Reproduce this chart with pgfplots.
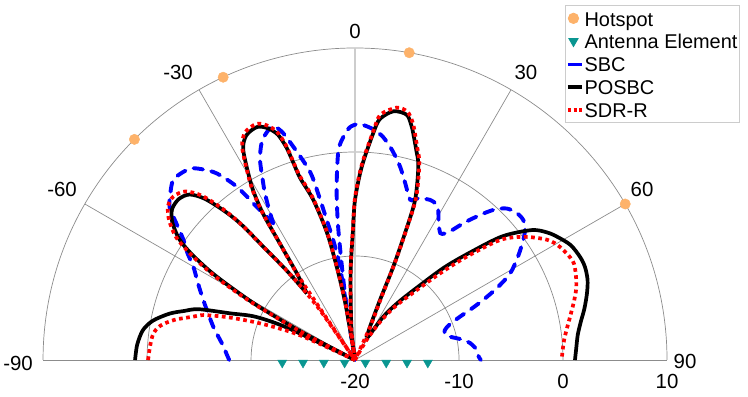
\documentclass[border=0pt]{standalone}
\usepackage{fontspec}
\setmainfont{Liberation Sans}
\usepackage{pgfplots}
\pgfplotsset{compat=1.18}
\definecolor{hotc}{RGB}{253,178,106}
\definecolor{antc}{RGB}{10,150,145}
\definecolor{gridc}{RGB}{140,140,140}
\definecolor{zeroc}{RGB}{205,205,205}
\pgfplotsset{
  table/pol/.style={x expr={(\thisrow{r}+20)*sin(\thisrow{t})},
                    y expr={(\thisrow{r}+20)*cos(\thisrow{t})}},
  sbc/.style={blue, line width=3.9bp, smooth, line cap=round, dash pattern=on 9.5bp off 8.5bp},
  posbc/.style={black, line width=3.7bp, smooth},
  sdr/.style={red, line width=3.7bp, smooth, line cap=butt, dash pattern=on 3.7bp off 3.5bp},
  markleg/.style={legend image code/.code={\path[draw=none] (0bp,0bp) -- (15bp,0bp); \path[##1, draw=none] plot coordinates {(6.5bp,0bp)};}},
  lineleg/.style={legend image code/.code={\draw[##1, solid, line cap=butt, line width=3.2bp] (1bp,0bp) -- (15bp,0bp);}},
  dotleg/.style={legend image code/.code={\draw[##1, line width=3.2bp, dash pattern=on 3bp off 2.6bp] (1bp,0bp) -- (15bp,0bp);}},
}
\newcommand\lblfont{\fontsize{20.5}{24}\selectfont}
\newcommand\lgd[1]{\smash{#1}\rule[-2.5bp]{0pt}{19.5bp}}

\begin{document}
\begin{tikzpicture}
\begin{axis}[
  width=748bp, height=397bp, scale only axis,
  xmin=-34.135, xmax=37.788, ymin=-3.558, ymax=34.615,
  hide axis, clip=false,
  legend cell align=left,
  legend style={at={(rel axis cs:0.7553,0.9874)}, anchor=north west,
    draw=gray!40, line width=0.8bp, fill=white,
    font=\fontsize{20}{24}\selectfont,
    inner xsep=1bp, inner ysep=1.5bp, column sep=0bp, row sep=0bp,
    nodes={inner xsep=1bp, inner ysep=2.2bp}},
]
% bounding box = whole picture
\path (rel axis cs:0,0) rectangle (rel axis cs:1,1);

% polar grid (1 unit = 10.4bp)
\draw[gridc, line width=0.7bp] (axis cs:-30,0) -- (axis cs:30,0);
\draw[gridc, line width=0.7bp] (axis cs:10,0) arc[start angle=0, end angle=180, radius=104bp];
\draw[gridc, line width=0.7bp] (axis cs:20,0) arc[start angle=0, end angle=180, radius=208bp];
\draw[gridc, line width=0.7bp] (axis cs:30,0) arc[start angle=0, end angle=180, radius=312bp];
\draw[gridc, line width=0.7bp] (axis cs:0,0) -- (axis cs:-25.981,15);
\draw[gridc, line width=0.7bp] (axis cs:0,0) -- (axis cs:-15,25.981);
\draw[gridc, line width=0.7bp] (axis cs:0,0) -- (axis cs:15,25.981);
\draw[gridc, line width=0.7bp] (axis cs:0,0) -- (axis cs:25.981,15);
\draw[zeroc, line width=1.8bp] (axis cs:0,0) -- (axis cs:0,30);

% angle labels
\node[font=\lblfont] at (axis cs:-32.40,-0.29) {-90};
\node[font=\lblfont] at (axis cs:-28.17,16.35) {-60};
\node[font=\lblfont] at (axis cs:-17.02,27.60) {-30};
\node[font=\lblfont] at (axis cs:0,31.63) {0};
\node[font=\lblfont] at (axis cs:16.44,27.60) {30};
\node[font=\lblfont] at (axis cs:27.60,16.44) {60};
\node[font=\lblfont] at (axis cs:31.73,-0.19) {90};
% radial labels
\node[font=\lblfont] at (axis cs:0,-2.02) {-20};
\node[font=\lblfont] at (axis cs:10,-2.02) {-10};
\node[font=\lblfont] at (axis cs:20,-2.02) {0};
\node[font=\lblfont] at (axis cs:30,-2.02) {10};

% hotspots
\addplot[only marks, mark=*, mark size=5.2bp, mark options={fill=hotc, draw=hotc}, markleg]
  table[pol] {
t r
-45 10
-25 10
10 10
60 10
};
\addlegendentry{\lgd{Hotspot}}
% antenna elements
\addplot[only marks, mark=triangle*, mark size=5.3bp, mark options={rotate=180, fill=antc, draw=antc}, markleg]
  coordinates {(-7,-0.26) (-5,-0.26) (-3,-0.26) (-1,-0.26) (1,-0.26) (3,-0.26) (5,-0.26) (7,-0.26)};
\addlegendentry{\lgd{Antenna Element}}

% SBC
\addplot[sbc, lineleg] table[pol] {
t r
-90 -7.9
-87 -7.6
-84.2 -7.3
-80.5 -6.7
-76.8 -6.0
-72.5 -5.2
-68.4 -4.3
-64 -3.2
-60 -2.05
-57.5 -0.9
-55 0.14
-52.5 1.7
-50.5 3.1
-48 3.9
-45.3 4.6
-42.5 4.5
-40.4 4.2
-38.5 3.4
-36.5 2.3
-34.3 0.17
-32.7 -2.5
-31.1 -4.5
-30.9 -4.7
};
\addlegendentry{\lgd{SBC}}
\addplot[sbc, forget plot] table[pol] {
t r
-30.9 -4.7
-29.8 -3.4
-28.4 -1.8
-27.2 -0.6
-25.4 1.3
-23.5 2.6
-21.8 3.3
-19.8 3.8
-18.9 3.7
-17.6 2.9
-15.8 1.0
-14 -0.8
-13 -2.2
-11.4 -6.3
-10.2 -8.5
-9.3 -10.6
-9.0 -14
-9 -20
};
\addplot[sbc, forget plot] table[pol] {
t r
-9 -20
-8.9 -15
-8.3 -12.2
-7.3 -7.4
-6.5 -4.5
-5.8 -2.6
-4.5 0.26
-2.8 1.6
-1.2 2.4
0.8 2.7
2.5 2.55
4.8 2.2
7.2 1.6
10 0.5
13.1 -0.9
16 -2.4
19 -3.7
21.4 -3.3
25.1 -3.0
27.5 -3.1
29 -3.5
31.5 -4.6
33.9 -5.3
35.3 -5.1
36.5 -4.6
38.7 -3.0
41.2 -1.3
43 -0.2
45 0.6
47.5 1.0
50.2 1.05
52.5 0.6
54.5 -0.13
57.5 -1.4
60.8 -2.9
63 -4.6
64.9 -6.4
66.3 -7.8
67.6 -9.1
69.5 -10.3
71.6 -10.9
74 -11.0
76.2 -10.6
79 -9.6
81.7 -8.8
85 -8.3
88.5 -8.1
90 -7.9
};

% POSBC
\addplot[posbc, lineleg] table[pol] {
t r
-90 1.15
-86 1.0
-82 0.6
-79 -0.2
-76 -1.6
-74 -2.9
-72 -4.2
-69.5 -7.2
-66.5 -9.6
-64.5 -13
-63.5 -20
};
\addlegendentry{\lgd{POSBC}}
\addplot[posbc, forget plot] table[pol] {
t r
-63.5 -20
-62.3 -14.5
-61 -9.5
-59.6 -6.1
-58.5 -3.6
-57 -1.2
-55.5 0.5
-53 2.0
-50.5 2.8
-47.6 2.95
-45 2.5
-43 1.2
-41.2 -1.0
-40 -3.0
-39 -6.0
-37.5 -9.0
-36.5 -11
-35.9 -12.1
};
\addplot[posbc, forget plot] table[pol] {
t r
-35.9 -12.1
-33.9 -10
-32.8 -6.5
-32.2 -3.5
-31.3 -1.5
-30.3 0
-28 2.9
-25.8 4.0
-22.8 4.3
-20.6 3.8
-18.9 2.9
-17.9 1.5
-17.4 0.0
-16.8 -1.7
-14.6 -4.1
-12.4 -7.5
-11.1 -10.9
-9.8 -14.2
-9.2 -17.4
-8.8 -20
};
\addplot[posbc, forget plot] table[pol] {
t r
-8.8 -20
-7 -17.4
-4.1 -14.2
-2.6 -11.0
-1.0 -7.8
0 -4.6
2.0 -1.4
4.6 1.9
5.9 3.3
8.8 4.2
11.9 4.1
13.5 3.2
14.4 2.5
16.3 1.0
18.1 -0.4
20.6 -3.6
21.5 -6.9
22.3 -10.3
22.6 -13.75
24 -16.3
27 -17.6
};
\addplot[posbc, forget plot] table[pol] {
t r
27 -17.6
29.7 -17.4
33.2 -15
37 -13
41 -10.5
44 -7.6
47 -4.8
50 -1.5
53.7 1.1
56.5 2.2
59 2.85
62 3.5
65.4 3.8
68 3.85
71 3.65
74 3.2
77.4 2.6
80.5 2.0
83.6 1.55
87 1.3
90 1.15
};

% SDR-R
\addplot[sdr, dotleg] table[pol] {
t r
-90 -0.1
-86 -0.25
-82.5 -0.45
-80 -1.0
-77.5 -2.2
-75 -3.9
-73.5 -4.8
-71.5 -7
-69.4 -9.6
-67.5 -12
-65.7 -14.5
-64 -20
};
\addlegendentry{\lgd{SDR-R}}
\addplot[sdr, forget plot] table[pol] {
t r
-64 -20
-62.5 -14.3
-61 -9
-59.8 -5.8
-58.6 -3.3
-57 -0.9
-55.5 0.9
-53 2.4
-50.5 3.3
-48 3.5
-45.2 3.0
-43 1.6
-41.2 -0.7
-40 -3
-39 -6
-37.5 -9
-36.5 -11
-35.8 -12.4
-35 -14.5
-34.3 -20
};
\addplot[sdr, forget plot] table[pol] {
t r
-34.3 -20
-34.2 -13.5
-33.9 -10
-32.8 -6.5
-32.2 -3.5
-31.3 -1.3
-30.3 0.2
-28 3.1
-25.8 4.3
-22.7 4.6
-20.6 4.1
-18.9 3.2
-17.9 1.8
-17.4 0.3
-16.8 -1.4
-14.6 -3.9
-12.4 -7.3
-11.1 -10.7
-9.8 -14
-9.2 -17.2
-8.8 -20
};
\addplot[sdr, forget plot] table[pol] {
t r
-8.8 -20
-7 -17
-4.1 -14
-2.6 -10.8
-1 -7.6
0 -4.4
2 -1.2
4.6 2.1
5.9 3.7
9.4 4.6
11.9 4.4
13.5 3.6
14.4 2.9
16.3 1.3
18.1 -0.1
20.6 -3.3
21.5 -6.6
22.3 -10
22.8 -13.5
24.5 -16.5
27 -20
};
\addplot[sdr, forget plot] table[pol] {
t r
27 -20
30 -17.8
33.5 -15.5
37 -13.5
41.5 -11
44.5 -8.3
47.2 -5.4
50.4 -1.9
53.9 0.1
58 1.8
61.1 2.5
65.5 3.0
68.5 2.8
71.8 2.4
75 1.8
78.6 1.1
84.5 0.2
90 -0.13
};
\end{axis}
\end{tikzpicture}
\end{document}
